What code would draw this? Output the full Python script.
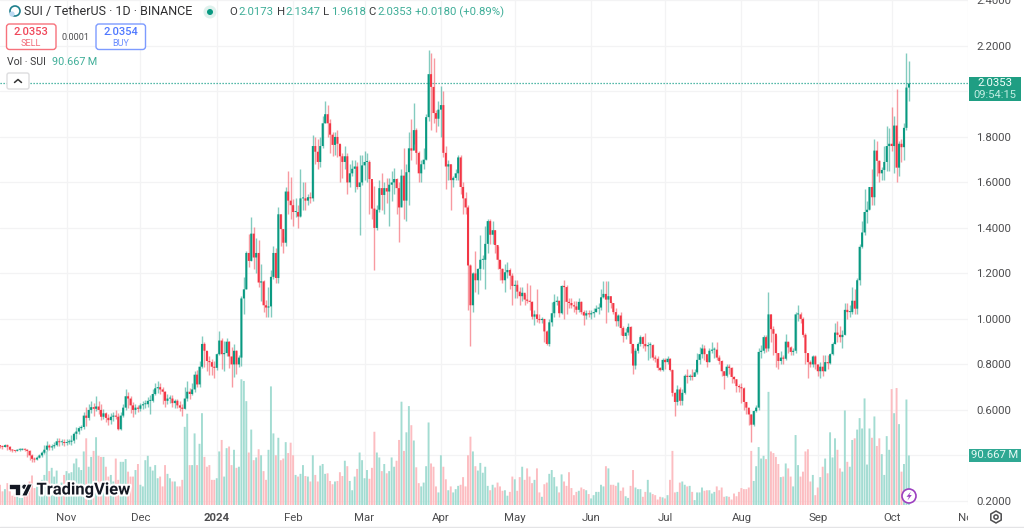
import numpy as np, pandas as pd, matplotlib
matplotlib.use('Agg')
import matplotlib.pyplot as plt, seaborn as sns
from matplotlib.patches import FancyBboxPatch, Circle, Polygon, Rectangle, RegularPolygon
from matplotlib.transforms import Bbox
import matplotlib.patheffects as pe

close = [.440,.437,.445,.438,.425,.422,.420,.425,.425,.428,
.425,.420,.400,.385,.382,.390,.400,.412,.425,.443,
.435,.440,.445,.462,.458,.458,.455,.458,.460,.465,
.495,.505,.520,.525,.575,.565,.600,.612,.605,.615,
.600,.570,.585,.565,.555,.570,.575,.570,.515,.575,
.610,.660,.650,.620,.600,.610,.605,.620,.625,.625,
.640,.640,.670,.695,.700,.690,.680,.640,.650,.650,
.630,.640,.620,.610,.605,.650,.680,.670,.690,.755,
.712,.790,.890,.860,.815,.810,.790,.785,.845,.905,
.845,.850,.900,.835,.800,.860,.800,.830,1.09,1.13,
1.29,1.255,1.375,1.27,1.29,1.16,1.165,1.06,1.05,1.055,
1.185,1.29,1.18,1.46,1.395,1.335,1.56,1.52,1.50,1.47,
1.47,1.45,1.53,1.53,1.52,1.535,1.53,1.76,1.735,1.69,
1.76,1.86,1.90,1.86,1.81,1.765,1.80,1.77,1.715,1.69,
1.715,1.60,1.64,1.66,1.67,1.58,1.60,1.675,1.69,1.69,
1.615,1.485,1.40,1.48,1.575,1.545,1.575,1.56,1.59,1.60,
1.615,1.575,1.49,1.63,1.52,1.645,1.75,1.74,1.83,1.73,
1.64,1.68,1.70,1.887,2.076,2.02,1.905,1.88,1.92,1.94,
1.73,1.67,1.68,1.61,1.62,1.64,1.71,1.58,1.53,1.49,
1.235,1.06,1.20,1.17,1.22,1.26,1.26,1.33,1.43,1.37,
1.39,1.325,1.26,1.22,1.17,1.205,1.215,1.19,1.145,1.15,
1.12,1.10,1.115,1.085,1.08,1.075,1.01,1.02,1.00,.995,
1.00,.945,.89,.985,1.025,1.075,1.08,1.025,1.145,1.14,
1.075,1.07,1.06,1.055,1.04,1.075,1.03,1.015,1.025,1.02,
1.025,1.03,1.045,1.05,1.095,1.11,1.085,1.10,1.07,1.03,
.99,1.015,.96,.925,.94,.965,.89,.795,.86,.89,
.92,.89,.88,.885,.885,.83,.825,.785,.775,.82,
.81,.825,.775,.675,.635,.69,.64,.675,.75,.745,
.75,.745,.765,.82,.845,.87,.845,.81,.86,.865,
.865,.83,.815,.77,.75,.79,.785,.745,.735,.705,
.70,.695,.635,.61,.58,.535,.595,.61,.855,.86,
.92,.87,1.02,.955,.935,.85,.815,.83,.825,.90,
.875,.855,.86,1.02,1.02,1.00,.93,.85,.81,.80,
.835,.80,.77,.79,.77,.81,.805,.845,.89,.94,
.93,.92,.93,1.04,1.03,1.03,1.08,1.045,1.17,1.317,
1.38,1.47,1.48,1.58,1.535,1.74,1.695,1.64,1.655,1.69,
1.76,1.77,1.76,1.85,1.665,1.77,1.755,1.84,2.017,2.035]
first_open = .445
high = [.445,.447,.452,.448,.440,.428,.425,.430,.432,.434,
.432,.430,.425,.405,.392,.398,.408,.420,.445,.462,
.450,.448,.458,.478,.475,.470,.472,.470,.472,.488,
.505,.525,.530,.535,.590,.612,.625,.640,.630,.660,
.640,.625,.605,.590,.580,.585,.590,.600,.585,.590,
.625,.690,.680,.660,.635,.625,.620,.630,.640,.645,
.655,.665,.690,.720,.725,.718,.700,.685,.672,.665,
.665,.650,.650,.640,.625,.700,.725,.695,.720,.770,
.775,.815,.925,.900,.860,.835,.825,.815,.850,.945,
.915,.905,.915,.905,.875,.890,.865,.840,1.10,1.185,
1.30,1.375,1.45,1.405,1.355,1.345,1.24,1.17,1.085,1.14,
1.215,1.32,1.31,1.49,1.46,1.36,1.58,1.65,1.625,1.525,
1.53,1.50,1.66,1.60,1.60,1.55,1.56,1.81,1.80,1.79,
1.80,1.89,1.96,1.94,1.88,1.82,1.82,1.83,1.77,1.73,
1.76,1.73,1.68,1.70,1.70,1.69,1.72,1.72,1.74,1.73,
1.70,1.60,1.585,1.50,1.61,1.64,1.60,1.62,1.62,1.65,
1.665,1.62,1.60,1.66,1.75,1.68,1.82,1.88,1.95,1.84,
1.74,1.70,1.75,1.90,2.18,2.17,2.147,1.92,1.96,2.025,
2.00,1.76,1.70,1.68,1.63,1.66,1.72,1.72,1.60,1.56,
1.50,1.24,1.205,1.30,1.225,1.37,1.28,1.41,1.44,1.44,
1.43,1.39,1.32,1.26,1.225,1.24,1.25,1.225,1.20,1.17,
1.17,1.14,1.14,1.11,1.16,1.15,1.08,1.04,1.13,1.02,
1.01,1.00,.95,1.00,1.075,1.11,1.10,1.06,1.15,1.17,
1.15,1.09,1.09,1.08,1.08,1.09,1.08,1.04,1.04,1.04,
1.04,1.05,1.06,1.07,1.13,1.165,1.165,1.165,1.08,1.07,
1.05,1.02,1.03,.97,.96,.98,.97,.89,.87,.90,
.93,.925,.94,.90,.90,.89,.84,.835,.79,.83,
.83,.835,.83,.78,.68,.71,.70,.69,.76,.78,
.76,.78,.78,.85,.875,.89,.885,.83,.87,.90,
.875,.90,.84,.82,.77,.80,.80,.79,.75,.72,
.715,.72,.70,.635,.60,.58,.60,.62,.87,.885,
.93,.93,1.12,1.02,.97,.93,.83,.86,.84,.935,
.90,.88,.87,1.03,1.06,1.03,1.01,.94,.85,.82,
.84,.84,.80,.81,.84,.84,.84,.85,.90,.98,
.99,.97,.95,1.07,1.07,1.06,1.14,1.13,1.18,1.33,
1.43,1.57,1.52,1.58,1.66,1.79,1.78,1.70,1.67,1.76,
1.85,1.84,1.93,1.89,2.01,1.78,1.79,1.86,2.167,2.135]
low = [.432,.430,.435,.425,.418,.415,.415,.418,.420,.422,
.418,.395,.380,.372,.372,.378,.388,.395,.405,.420,
.425,.425,.432,.440,.440,.445,.440,.445,.448,.445,
.455,.470,.495,.510,.515,.530,.555,.585,.575,.595,
.580,.555,.560,.545,.535,.540,.550,.560,.510,.510,
.570,.600,.610,.585,.570,.580,.590,.595,.605,.610,
.615,.580,.635,.665,.675,.670,.625,.615,.625,.630,
.615,.610,.610,.595,.575,.605,.640,.650,.665,.680,
.700,.700,.785,.790,.770,.755,.755,.740,.775,.840,
.780,.770,.835,.785,.700,.745,.760,.790,.795,1.02,
1.13,1.23,1.255,1.22,1.20,1.14,1.08,1.03,1.01,1.01,
1.01,1.175,1.16,1.16,1.32,1.29,1.32,1.46,1.44,1.41,
1.45,1.40,1.45,1.48,1.48,1.50,1.51,1.52,1.68,1.66,
1.67,1.75,1.86,1.80,1.73,1.715,1.72,1.71,1.60,1.62,
1.66,1.55,1.58,1.63,1.56,1.57,1.37,1.59,1.61,1.60,
1.46,1.44,1.215,1.39,1.47,1.48,1.46,1.51,1.41,1.52,
1.55,1.46,1.34,1.50,1.44,1.43,1.50,1.70,1.77,1.68,
1.60,1.60,1.66,1.70,1.87,1.83,1.86,1.82,1.85,1.80,
1.71,1.57,1.61,1.48,1.58,1.61,1.61,1.55,1.46,1.46,
1.04,.88,1.03,1.12,1.11,1.17,1.22,1.13,1.29,1.33,
1.33,1.29,1.22,1.17,1.16,1.12,1.18,1.13,1.06,1.09,
1.09,1.06,1.08,1.06,1.07,1.04,1.00,.975,.985,.98,
.98,.90,.885,.88,.97,1.01,1.06,1.01,1.02,1.00,
1.02,1.05,1.05,1.03,1.02,1.03,1.02,.975,1.00,1.01,
1.00,1.01,1.03,1.02,1.04,1.09,.98,1.03,1.05,1.02,
.97,.97,.93,.90,.91,.93,.85,.76,.78,.85,
.88,.87,.86,.82,.83,.82,.81,.775,.77,.77,
.78,.80,.77,.66,.575,.62,.62,.62,.67,.72,
.73,.73,.75,.76,.80,.83,.82,.79,.81,.85,
.83,.82,.80,.75,.69,.745,.76,.72,.72,.68,
.68,.63,.60,.58,.535,.46,.53,.59,.60,.83,
.85,.855,.86,.90,.84,.79,.78,.80,.80,.82,
.85,.84,.84,.85,.99,.98,.92,.80,.74,.79,
.79,.78,.75,.74,.75,.77,.78,.80,.84,.89,
.90,.90,.87,.93,1.00,1.01,1.02,1.02,1.02,1.15,
1.31,1.37,1.42,1.48,1.50,1.50,1.63,1.60,1.61,1.61,
1.65,1.65,1.74,1.64,1.60,1.63,1.69,1.70,1.83,1.96]
volume_m = [37,25,29,40,25,17,21,19,13,13,
19,37,43,54,31,34,37,46,55,98,
62,68,52,63,37,41,55,62,58,60,
76,85,69,64,98,122,70,88,99,124,
90,88,88,70,52,55,43,85,46,79,
79,84,61,52,52,64,75,37,34,82,
90,70,63,73,49,52,34,73,57,49,
43,43,34,34,46,143,167,73,73,131,
73,112,168,88,70,73,46,46,49,98,
119,52,104,107,73,101,68,70,230,227,
190,96,138,82,87,102,91,62,46,101,
217,131,91,123,82,85,115,95,114,91,
55,52,57,73,53,52,43,91,55,43,
72,75,57,58,44,38,43,44,60,53,
81,71,44,27,52,66,96,82,49,64,
48,68,134,96,87,62,75,58,62,87,
70,81,119,189,99,133,181,146,118,69,
40,34,41,71,151,76,70,34,23,91,
70,47,27,34,23,29,35,37,51,34,
91,125,98,71,63,77,59,70,35,27,
37,32,41,34,26,27,17,24,52,47,
26,51,70,46,67,52,40,46,67,23,
15,38,41,57,64,51,34,23,56,43,
35,60,31,18,24,26,32,29,27,20,
12,18,24,24,37,34,71,67,37,37,
35,41,26,32,16,13,35,64,32,29,
29,15,24,46,23,20,18,10,15,14,
12,18,46,99,23,24,41,43,37,34,
35,24,9,23,23,32,26,27,27,21,
24,34,27,32,15,16,15,10,21,16,
24,31,29,29,32,99,44,71,106,85,
90,84,207,98,95,88,75,51,52,76,
67,52,34,128,73,52,61,98,102,43,
55,18,32,51,70,85,58,133,87,122,
101,67,61,173,79,70,119,122,138,159,
140,195,74,140,123,162,108,122,93,55,
126,101,212,168,214,148,61,75,193,90.667]
month_pos = [27,57,88,119,148,179,209,240,270,301,332,362,393]
month_labels = ['Nov','Dec','2024','Feb','Mar','Apr','May','Jun','Jul','Aug','Sep','Oct','Nov']
price_ticks = [0.2,0.4,0.6,0.8,1.0,1.2,1.4,1.6,1.8,2.0,2.2,2.4]
hidden_ticks = [0.4, 2.0]   # covered by the value tags in the reference

GREEN, RED = '#089981', '#f23645'
VG, VR = '#a3dcd2', '#fcbdc1'
FONT = 'Roboto'
sns.set_theme(style='white')
plt.rcParams['font.family'] = [FONT, 'DejaVu Sans']

n = len(close)
df = pd.DataFrame({'idx': np.arange(n), 'close': close, 'high': high, 'low': low, 'volume': volume_m})
df['open'] = [first_open] + close[:-1]
df['dir'] = np.where(df.close >= df.open, 'up', 'down')

W, H = 1024, 528
fig = plt.figure(figsize=(W/100, H/100), dpi=100, facecolor='white')
L, R, T, B = 0, 968, 0, 505
rect = [L/W, 1-B/H, (R-L)/W, (B-T)/H]
ax_v = fig.add_axes(rect, zorder=1)
ax = fig.add_axes(rect, zorder=2)
ax.patch.set_alpha(0)

# volume pane
sns.barplot(data=df, x='idx', y='volume', hue='dir', palette={'up': VG, 'down': VR},
            native_scale=True, dodge=False, width=.78, saturation=1, legend=False,
            linewidth=0, ax=ax_v)
for p in ax_v.patches:
    p.set_snap(False)
ax_v.set_xlim(0, 393)
ax_v.set_ylim(0, 924)
ax_v.set_xticks(month_pos); ax_v.set_yticks([])
ax_v.tick_params(labelbottom=False, length=0)
ax_v.set_xlabel(''); ax_v.set_ylabel('')
ax_v.grid(False)
for v in month_pos:
    ax_v.axvline(v, color='#f3f3f4', lw=.9, zorder=0)
for p in price_ticks:
    ax_v.axhline((p-0.182)/(2.402-0.182)*924, color='#f3f3f4', lw=.9, zorder=0)

# candles
for d, col in (('up', GREEN), ('down', RED)):
    s = df[df.dir == d]
    ax.vlines(s.idx, s.low, s.high, color=col, alpha=.5, lw=1.0, zorder=2)
    bars = ax.bar(s.idx, (s.close-s.open).abs().clip(lower=.004), bottom=s[['open','close']].min(axis=1),
           width=.82, color=col, lw=0, zorder=3)
    for b in bars:
        b.set_snap(False)
ax.axhline(close[-1], color=GREEN, lw=.9, ls=(0, (1, 1.4)), alpha=.9, zorder=1)
ax.set_xlim(0, 393)
ax.set_ylim(0.182, 2.402)
ax.set_xticks(month_pos)
ax.set_xticklabels(month_labels)
ax.set_yticks(price_ticks)
ax.set_yticklabels(['' if p in hidden_ticks else f'{p:.4f}' for p in price_ticks])
ax.yaxis.tick_right()
ax.tick_params(axis='y', length=0, pad=6, labelsize=8.2, labelcolor='#4d4d4f')
ax.tick_params(axis='x', length=0, pad=6, labelsize=8.2, labelcolor='#4d4d4f')
clipbox = Bbox([[0, 0], [R, H]])
for t in ax.get_xticklabels():
    t.set_clip_box(clipbox); t.set_clip_on(True)
    if t.get_text() == '2024':
        t.set_fontweight('bold')
for a in (ax, ax_v):
    for sp in a.spines.values():
        sp.set_visible(False)

# chrome in pixel coordinates
ov = fig.add_axes([0, 0, 1, 1], zorder=5)
ov.set_xlim(0, W); ov.set_ylim(H, 0); ov.axis('off'); ov.patch.set_alpha(0)
def txt(x, y, s, size=8.5, color='#3a3a3c', **kw):
    kw.setdefault('va', 'center'); kw.setdefault('ha', 'left')
    return ov.text(x, y, s, fontsize=size, color=color, **kw)
def box(x0, y0, x1, y1, ec, fc='white', lw=1.0, r=3):
    ov.add_patch(FancyBboxPatch((x0, y0), x1-x0, y1-y0, boxstyle=f'round,pad=0,rounding_size={r}',
                                ec=ec, fc=fc, lw=lw))
TEAL = '#3fae98'
# header
ov.add_patch(Circle((15, 11), 5, fc='none', ec='#1f7f8c', lw=1.2))
ov.add_patch(Circle((12, 14), 2.6, fc='#bcd9f2', ec='none'))
txt(24, 12, 'SUI / TetherUS · 1D · BINANCE', 9.0, '#2f2f31')
ov.add_patch(Circle((210, 12), 6.5, fc='#dff1ed', ec='none'))
ov.add_patch(Circle((210, 12), 3, fc=GREEN, ec='none'))
for x, s in ((229.5, 'O'), (277, 'H'), (323.5, 'L'), (368.5, 'C')):
    txt(x, 12, s, 8.2, '#3a3a3c')
for x, s in ((238, '2.0173'), (285, '2.1347'), (331, '1.9618'), (377, '2.0353'), (415, '+0.0180 (+0.89%)')):
    txt(x, 12, s, 8.2, TEAL)
# buy/sell
box(6.5, 24, 56, 49.5, '#f7727c')
box(96, 24, 145.5, 49.5, '#7d9bff')
txt(31, 32, '2.0353', 8, '#f0475a', ha='center', fontweight='medium')
txt(31, 43, 'SELL', 6.6, '#f26d7b', ha='center')
txt(120.5, 32, '2.0354', 8, '#4f78ff', ha='center', fontweight='medium')
txt(120.5, 43, 'BUY', 6.6, '#6d8fff', ha='center')
txt(76, 37, '0.0001', 6.6, '#4d4d4f', ha='center')
txt(7, 62, 'Vol · SUI', 7.6, '#3a3a3c')
txt(52, 62, '90.667\u2009M', 7.8, TEAL, family=[FONT, 'DejaVu Sans'])
box(7, 73, 29, 89, '#dddddf', r=2)
ov.plot([14.5, 18, 21.5], [82.5, 79.5, 82.5], color='#333333', lw=1.1)
# price tags
ov.add_patch(Rectangle((969, 77), 52, 24, fc='#1f9e83', ec='none'))
txt(995, 83.5, '2.0353', 8.2, '#f2fffb', ha='center')
txt(995, 94.5, '09:54:15', 8, '#c4eee3', ha='center')
ov.add_patch(Rectangle((969, 449), 52, 13, fc='#2fa893', ec='none'))
txt(995, 455.5, '90.667\u2009M', 8.2, '#e5f8f3', ha='center')
# TradingView logo
halo = [pe.withStroke(linewidth=3, foreground='white')]
ov.add_patch(Polygon([(9, 484), (21, 484), (21, 496), (15, 496), (15, 490), (9, 490)], fc='#131722', ec='white', lw=1.2))
ov.add_patch(Circle((24.5, 486.8), 2.8, fc='#131722', ec='white', lw=.8))
ov.add_patch(Polygon([(27.5, 484), (32.5, 484), (27, 496), (21.5, 496)], fc='#131722', ec='white', lw=.8))
txt(36.5, 490, 'TradingView', 11.9, '#131722', fontweight='semibold', path_effects=halo)
# lightning badge
ov.add_patch(Circle((909, 496), 7, fc='white', ec='#9c3fc0', lw=1.2))
ov.add_patch(Polygon([(911, 491.5), (906.5, 496.8), (909, 496.8), (907.5, 500.5), (911.8, 495), (909.3, 495)], fc='#9c3fc0', ec='none'))
# gear
ov.add_patch(RegularPolygon((996, 517), 6, radius=6, fc='white', ec='#4d4d4f', lw=1.1))
ov.add_patch(Circle((996, 517), 2.1, fc='white', ec='#4d4d4f', lw=1.1))
# bottom rule
ov.plot([0, W], [527.3, 527.3], color='#e4e4e6', lw=1)

fig.savefig('out.png', dpi=100)
